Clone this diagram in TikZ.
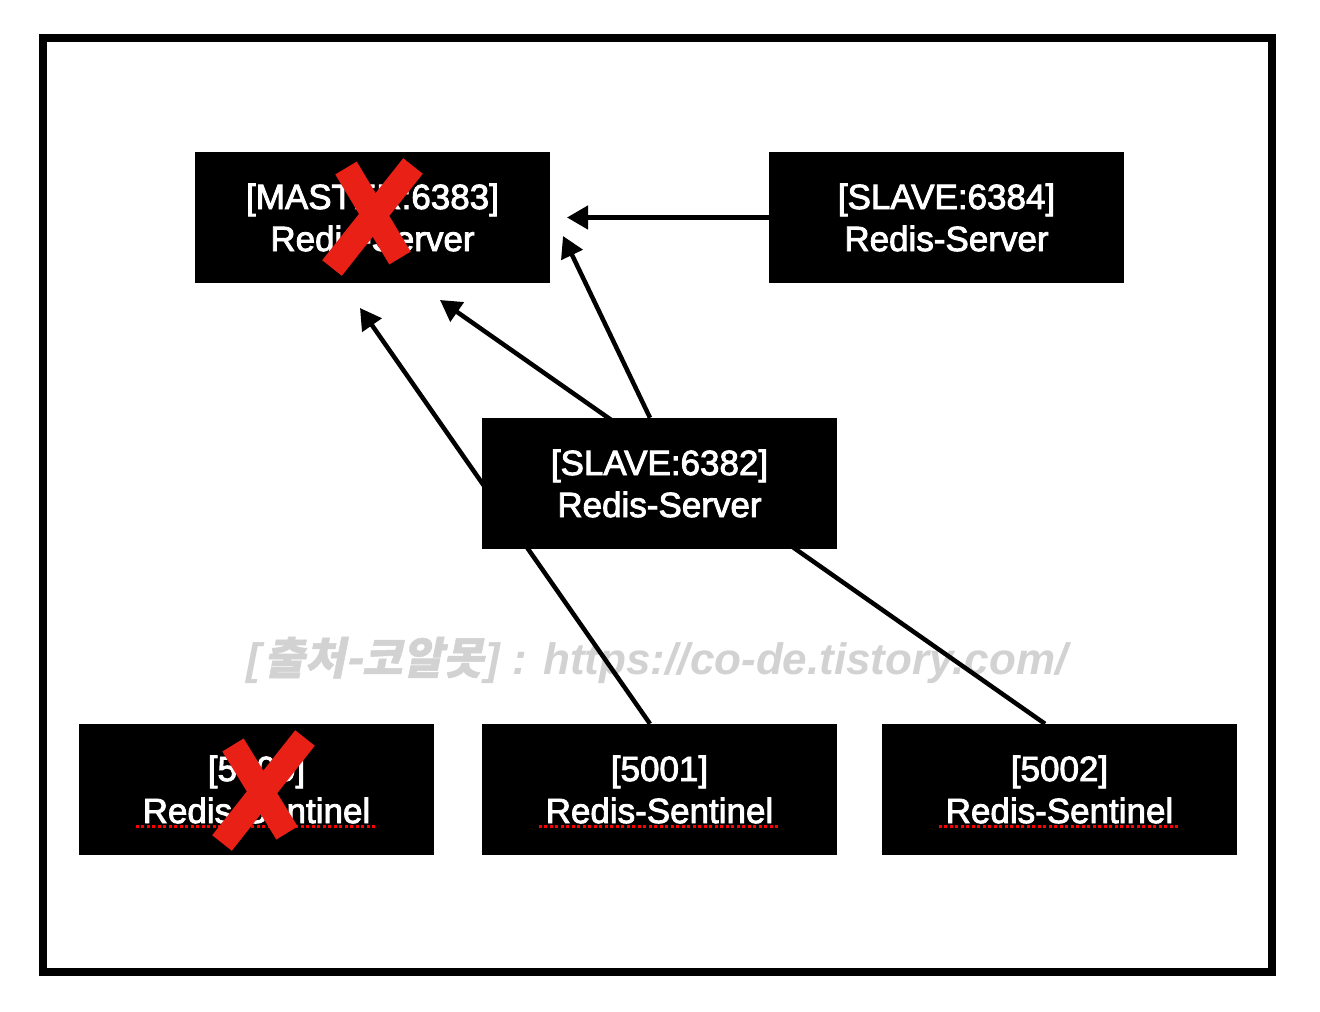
\documentclass[tikz,border=0pt]{standalone}
\usepackage{fontspec}
\setmainfont{Liberation Sans}
\newfontfamily\boxfont{Liberation Sans}[FakeBold=2.5]
\newfontfamily\cjk{Noto Sans CJK KR}[FakeSlant=0.2,FakeBold=1.2]
\usetikzlibrary{arrows.meta,calc,backgrounds}
\definecolor{xred}{RGB}{232,32,22}
\definecolor{wmgray}{RGB}{210,210,210}
\tikzset{
  box/.style={rectangle, fill=black, text=white, inner sep=0pt,
    minimum width=355pt, minimum height=131pt, align=center,
    font=\boxfont\fontsize{35}{42}\selectfont},
  conn/.style={line width=4.5pt, -{Triangle[length=21pt,width=23pt]}},
  frame/.style={line width=8pt, draw=black},
  xstroke/.style={line width=25pt, draw=xred},
  spell/.style={draw=red, line width=3pt, dash pattern=on 3pt off 2.5pt},
  watermark/.style={text=wmgray, font=\fontsize{44}{50}\selectfont\bfseries\itshape}
}
\begin{document}
\begin{tikzpicture}[x=1pt,y=-1pt]
\useasboundingbox (0,0) rectangle (1320,1012);
\draw[frame] (43,38) rectangle (1272,972);

\node[box] (master) at (372.5,217.5) {[MASTER:6383]\\Redis-Server};
\node[box] (s6384) at (946.5,217.5) {[SLAVE:6384]\\Redis-Server};
\node[box] (s6382) at (659.5,483.5) {[SLAVE:6382]\\Redis-Server};
\node[box] (n5000) at (256.5,789.5) {[5000]\\Redis-Sentinel};
\node[box] (n5001) at (659.5,789.5) {[5001]\\Redis-Sentinel};
\node[box] (n5002) at (1059.5,789.5) {[5002]\\Redis-Sentinel};

\coordinate (tipA) at (567,217.5);
\coordinate (tipB) at (563,236);
\coordinate (tipC) at (440,300);
\coordinate (tipD) at (360,308);

\begin{pgfonlayer}{background}
  \fill[white] (0,0) rectangle (1320,1012);
  \node[watermark] (wm) at (657,660) {[\kern3pt{\cjk 출처-코알못}\kern2pt] : https://co-de.tistory.com/};
  \draw[conn] (s6384.west) -- (tipA);
  \draw[conn] ($(s6382.north)+(-9.5,0)$) -- (tipB);
  \draw[conn] ($(n5002.north)+(-14.5,0)$) -- (tipC);
  \draw[conn] ($(n5001.north)+(-9.5,0)$) -- (tipD);
\end{pgfonlayer}

\foreach \n in {n5000,n5001,n5002}{
  \draw[spell] ($(\n.center)+(-121,36.5)$) -- ($(\n.center)+(121,36.5)$);
}

\draw[xstroke] (346,168) -- (400,258);
\draw[xstroke] (413,166) -- (332,268);
\draw[xstroke] (233,745) -- (287,833);
\draw[xstroke] (305,738) -- (222,843);
\end{tikzpicture}
\end{document}
